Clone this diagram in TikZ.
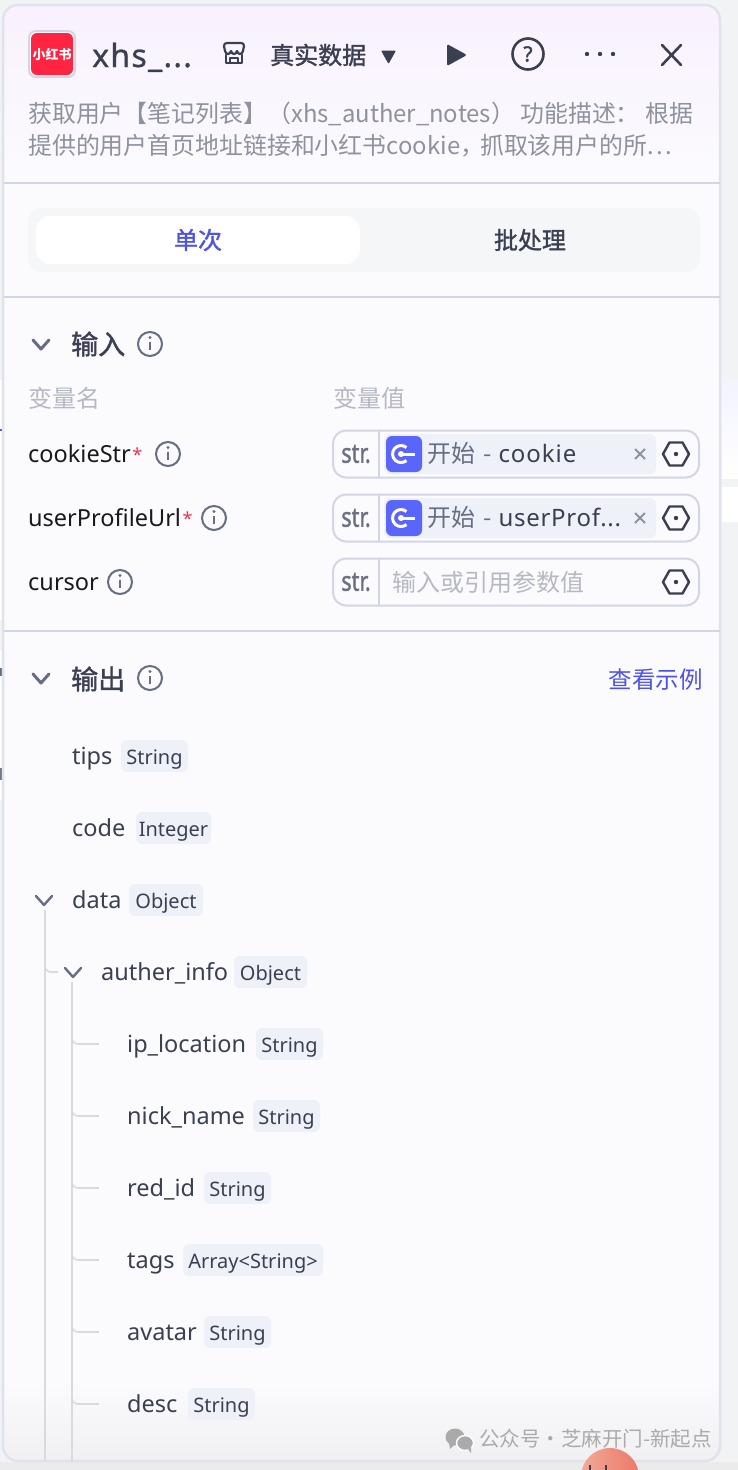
\documentclass[tikz,border=0pt]{standalone}
\usepackage{fontspec}
\usepackage{graphicx}
\setmainfont{Noto Sans}
\newfontfamily\cjk{Noto Sans CJK SC}
\newfontfamily\cjkm[FakeBold=1.4]{Noto Sans CJK SC}
\newfontfamily\sansm[FakeBold=0.8,LetterSpace=4]{Noto Sans}
\newfontfamily\sansb[FakeBold=1.6]{Noto Sans}
\usetikzlibrary{calc}
\definecolor{ink}{HTML}{3A3F51}
\definecolor{soft}{HTML}{8E919F}
\definecolor{faint}{HTML}{B6B8C2}
\definecolor{rule}{HTML}{D3D5E4}
\definecolor{chip}{HTML}{EFF1F8}
\definecolor{linkblue}{HTML}{4D53E8}
\definecolor{tree}{HTML}{D9D9DE}
\definecolor{arrowc}{HTML}{666D85}
\definecolor{outer}{HTML}{F2F3F5}
\definecolor{base}{HTML}{FBFBFE}
\definecolor{startblue}{HTML}{5A66FB}
\definecolor{strc}{HTML}{6B7183}
\definecolor{toptint}{HTML}{F9F1FE}
\definecolor{bottint}{HTML}{F0F0F3}
\definecolor{redlogo}{HTML}{FF2442}
\definecolor{tabbg}{HTML}{F5F6F8}
\definecolor{ballA}{HTML}{F0AA96}
\definecolor{ballB}{HTML}{EE7869}
\definecolor{wm}{HTML}{AAAAAA}
\definecolor{lav}{HTML}{F3F3FF}
\definecolor{star}{HTML}{F0314A}
\newcommand{\reqmark}{\hspace{1.5pt}\textcolor{star}{\raisebox{1pt}{\fontsize{18}{18}\selectfont *}}}
\tikzset{
 x=1pt,y=-1pt,
 lab/.style={inner sep=0,anchor=west,text=ink,text height=16,text depth=0,font=\fontsize{23.5}{24}\selectfont},
 varname/.style={inner sep=0,anchor=west,text=black!90,text height=16,text depth=0,font=\fontsize{23.5}{24}\selectfont},
 tag/.style={inner sep=0,fill=chip,rounded corners=6,minimum height=32,anchor=center,text=ink,text height=16,text depth=0,font=\fontsize{20}{20}\selectfont},
 head/.style={inner sep=0,anchor=west,text=ink,font=\cjkm\fontsize{27}{27}\selectfont},
 hdr/.style={inner sep=0,anchor=west,text=faint,font=\cjk\fontsize{24}{24}\selectfont},
 desc/.style={inner sep=0,anchor=west,text=soft,font=\cjk\fontsize{23.9}{24}\selectfont},
 divider/.style={draw=rule,line width=2},
 treeline/.style={draw=tree,line width=1.6,rounded corners=6},
 chev/.style={draw=arrowc,line width=2.4,line cap=round,line join=round},
 bigchev/.style={chev,line width=3},
 fieldbox/.style={draw=rule,line width=2,rounded corners=13},
 ic/.style={draw=ink,line width=2.6,line cap=round,line join=round},
 strlab/.style={inner sep=0,text=strc,font=\sansb\fontsize{27}{27}\selectfont},
 refchip/.style={inner sep=0,anchor=west,text height=16,text depth=0,font=\fontsize{24}{24}\selectfont},
}
\newcommand{\infoicon}[2]{%
 \draw[draw=arrowc,line width=2] (#1,#2) circle (12);
 \fill[arrowc] (#1,#2-6.5) circle (1.7);
 \draw[arrowc,line width=2.2] (#1,#2-2.5) -- (#1,#2+6);}
\newcommand{\hexicon}[2]{%
 \draw[ic,line width=2.4] (#1-13,#2) -- (#1-6.5,#2-11.5) -- (#1+6.5,#2-11.5) -- (#1+13,#2) -- (#1+6.5,#2+11.5) -- (#1-6.5,#2+11.5) -- cycle;
 \fill[ink] (#1,#2) circle (2.2);}
\newcommand{\starticon}[2]{%
 \fill[startblue,rounded corners=6] (#1,#2-18) rectangle (#1+36,#2+18);
 \draw[white,line width=3] (#1+15+5.5,#2-6.5) arc[start angle=-50,end angle=-310,radius=8.5];
 \draw[white,line width=3] (#1+15,#2) -- (#1+29,#2);
 \fill[white] (#1+15,#2) circle (3);}
\newcommand{\smallx}[2]{%
 \draw[soft,line width=1.8] (#1-5,#2-5) -- (#1+5,#2+5) (#1+5,#2-5) -- (#1-5,#2+5);}
\begin{document}
\begin{tikzpicture}
\useasboundingbox (0,0) rectangle (738,1470);
\fill[outer] (0,0) rectangle (738,1470);
% fragments of the canvas behind the panel
\fill[white] (722,487) rectangle (738,522);
\shade[top color=lav,bottom color=white] (722,381) rectangle (738,478);
\fill[white] (0,380) rectangle (3,620);
\fill[white] (0,650) rectangle (3,800);
\fill[arrowc] (0,668) rectangle (2,676);
\fill[ink!70] (0,768) rectangle (2,780);
\fill[linkblue] (0,429) rectangle (3,431);
\fill[black!8] (0,1462) rectangle (738,1470);
% panel
\begin{scope}
\clip[rounded corners=15] (3,5) rectangle (720,1461);
\fill[base] (3,5) rectangle (720,1461);
\shade[top color=toptint,bottom color=base] (3,5) rectangle (720,180);
\shade[top color=base,bottom color=bottint] (3,1385) rectangle (720,1461);
\end{scope}
\draw[rounded corners=15,draw=rule!70,line width=2.5] (3,5) rectangle (720,1461);
\shade[left color=ballA,right color=ballB] (610,1477) circle (29);
\fill[ink] (589,1465) rectangle (591,1470);
\fill[ink] (605,1465) rectangle (607,1470);
% header
\draw[draw=rule,fill=white,line width=2,rounded corners=7] (29,31) rectangle (75,77);
\fill[redlogo,rounded corners=6] (31,33) rectangle (73,75);
\node[inner sep=0,text=white,font=\cjk\bfseries\fontsize{13}{13}\selectfont] (logo) at (52,54) {小红书};
\node[inner sep=0,anchor=west,text=ink,text height=22,text depth=0,font=\sansm\fontsize{32}{32}\selectfont] (title) at (92,56) {xhs\_...};
% shop icon
\draw[ic,line width=2.2] (225,51) -- (224,46) .. controls (224,44) and (225,43) .. (227,43) -- (241,43) .. controls (243,43) and (244,44) .. (244,46) -- (243,51) .. controls (242,55) and (238,55) .. (237,51) .. controls (236,55) and (232,55) .. (231,51) .. controls (230,55) and (226,55) .. (225,51);
\draw[ic,line width=2.2] (226,55) -- (226,63) -- (242,63) -- (242,55) (230,63) -- (230,58) -- (238,58) -- (238,63);
\node[inner sep=0,anchor=west,text=ink,font=\cjkm\fontsize{24}{24}\selectfont] (mode) at (270,55) {真实数据};
\fill[ink,rounded corners=1] (381,50.5) -- (396,50.5) -- (388.5,64) -- cycle;
\fill[ink,rounded corners=1.5] (447,44) -- (467,55) -- (447,66) -- cycle;
\draw[ink,line width=2.6] (528,54) circle (15.5);
\node[inner sep=0,text=ink,font=\sansb\fontsize{21}{21}\selectfont] (help) at (528,54) {?};
\fill[ink] (587,54) circle (2.2) (600,54) circle (2.2) (613,54) circle (2.2);
\draw[ic] (662,45) -- (681,65) (681,45) -- (662,65);
\node[desc] (d1) at (28,113.5) {获取用户【笔记列表】（xhs\_auther\_notes） 功能描述： 根据};
\node[desc] (d2) at (28,145.5) {提供的用户首页地址链接和小红书cookie，\hspace{-4pt}抓取该用户的所.\hspace{2.5pt}.\hspace{2.5pt}.};
\draw[divider] (4,183) -- (720,183);
% tabs
\fill[tabbg,rounded corners=14] (28,208) rectangle (700,272);
\fill[white,rounded corners=14] (36,216) rectangle (360,264);
\node[inner sep=0,text=linkblue,font=\cjkm\fontsize{24}{24}\selectfont] (tabone) at (198,240) {单次};
\node[inner sep=0,text=ink,font=\cjkm\fontsize{24}{24}\selectfont] (tabbatch) at (530,240) {批处理};
\draw[divider] (4,297) -- (720,297);
% input
\draw[bigchev] (33,340) -- (41,349) -- (49,340);
\node[head] (inhead) at (71,344) {输入};
\infoicon{150}{344}
\node[hdr] (hname) at (28,398) {变量名};
\node[hdr] (hval) at (333,398) {变量值};
\node[varname] (v1) at (28,454) {cookieStr\reqmark};
\infoicon{168}{454}
\node[varname] (v2) at (28,518) {userProfileUrl\reqmark};
\infoicon{214}{518}
\node[varname] (v3) at (28,582) {cursor};
\infoicon{120}{582}
\foreach \y in {454,518,582}{
 \draw[fieldbox] (333,\y-23.5) rectangle (699,\y+23.5);
 \draw[rule,line width=2] (379,\y-23.5) -- (379,\y+23.5);
 \node[strlab] at (356,\y) {\scalebox{0.8}[1]{str.}};
 \hexicon{676}{\y}
}
\fill[chip,rounded corners=6] (384,434) rectangle (656,474);
\starticon{386}{454}
\node[refchip] (r1) at (427,454) {\cjk\textcolor{arrowc}{开始\hspace{8pt}-\hspace{7pt}}\textcolor{ink}{\rmfamily\addfontfeature{LetterSpace=4}cookie}};
\smallx{640}{454}
\fill[chip,rounded corners=6] (384,498) rectangle (656,538);
\starticon{386}{518}
\node[refchip] (r2) at (427,518) {\cjk\textcolor{arrowc}{开始\hspace{8pt}-\hspace{7pt}}\textcolor{ink}{\rmfamily\addfontfeature{LetterSpace=3}userProf...}};
\smallx{640}{518}
\node[inner sep=0,anchor=west,text=faint,font=\cjk\fontsize{24}{24}\selectfont] (ph) at (392,582) {输入或引用参数值};
\draw[divider] (4,631) -- (720,631);
% output
\draw[bigchev] (33,674) -- (41,683) -- (49,674);
\node[head] (outhead) at (71,679) {输出};
\infoicon{150}{678}
\node[inner sep=0,anchor=east,text=linkblue,font=\cjk\fontsize{23.5}{24}\selectfont] (example) at (703,680) {查看示例};
% tree labels
\node[lab] (tips) at (72,756) {tips};
\node[tag,minimum width=67] (tipst) at (154.5,756) {String};
\node[lab] (code) at (72,828) {code};
\node[tag,minimum width=75] (codet) at (173.5,828) {Integer};
\node[lab] (data) at (72,900) {data};
\node[tag,minimum width=74] (datat) at (166,900) {Object};
\node[lab] (auth) at (101,972) {auther\_info};
\node[tag,minimum width=73] (autht) at (270.5,972) {Object};
\node[lab] (ip) at (127,1044) {ip\_location};
\node[tag,minimum width=67] (ipt) at (289.5,1044) {String};
\node[lab] (nick) at (127,1116) {nick\_name};
\node[tag,minimum width=67] (nickt) at (286.5,1116) {String};
\node[lab] (red) at (127,1188) {red\_id};
\node[tag,minimum width=67] (redt) at (237.5,1188) {String};
\node[lab] (tags) at (127,1260) {tags};
\node[tag,minimum width=140] (tagst) at (253,1260) {Array<String>};
\node[lab] (avatar) at (127,1332) {avatar};
\node[tag,minimum width=67] (avatart) at (237.5,1332) {String};
\node[lab] (descr) at (127,1404) {desc};
\node[tag,minimum width=67] (descrt) at (221.5,1404) {String};
% tree connectors
\coordinate (dchev) at (44,900);
\coordinate (achev) at (73,972);
\coordinate (tbot) at (45,1461);
\coordinate (ubot) at (72,1461);
\draw[chev] (36,896) -- (44,905) -- (52,896);
\draw[chev] (65,968) -- (73,977) -- (81,968);
\draw[treeline] (45,910) -- (tbot);
\draw[treeline] (72,982) -- (ubot);
\draw[treeline] (45,958) |- ($(achev)+(-15,0)$);
\foreach \n in {ip,nick,red,tags,avatar,descr}{
 \draw[treeline] ($(\n.west)+(-55,-14)$) |- ($(\n.west)+(-28,0)$);
}
% watermark
\fill[wm] (455,1437) ellipse (9.5 and 8.5);
\fill[wm] (449,1443) -- (450,1449) -- (455,1444) -- cycle;
\draw[base,line width=1.5,fill=wm] (465,1443) ellipse (8.5 and 7.5);
\fill[wm] (468,1449) -- (471,1453) -- (471,1447) -- cycle;
\node[inner sep=0,anchor=west,text=wm,font=\cjk\fontsize{20.5}{21}\selectfont] (mark) at (479,1439) {公众号·芝麻开门-新起点};
\end{tikzpicture}
\end{document}
